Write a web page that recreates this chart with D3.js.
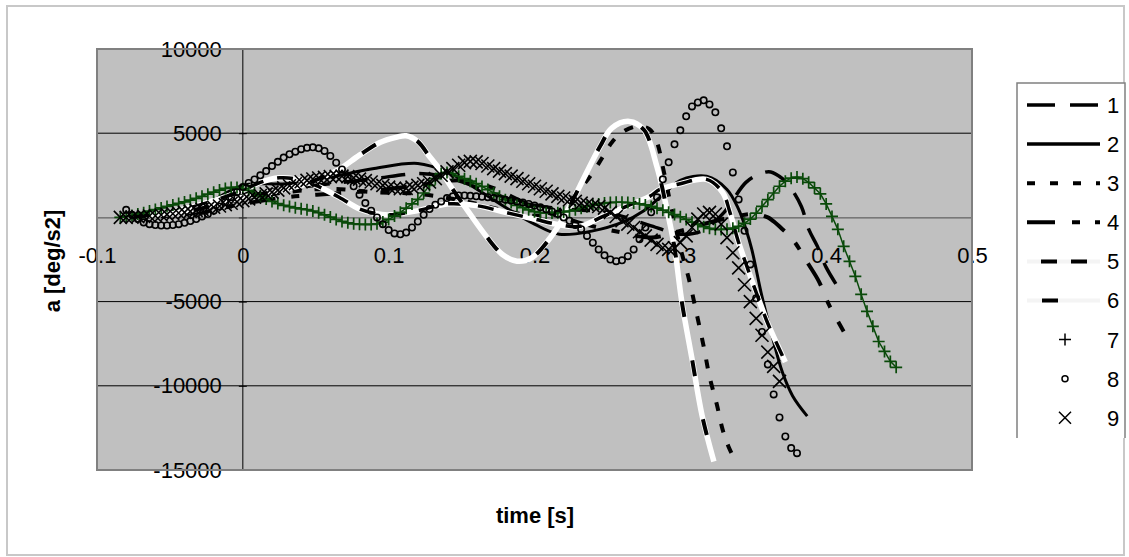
<!DOCTYPE html>
<html>
<head>
<meta charset="utf-8">
<script src="https://cdn.jsdelivr.net/npm/d3@7"></script>
<style>
  body { margin: 0; background: #fff; }
  svg { display: block; font-family: "Liberation Sans", Arial, sans-serif; }
</style>
</head>
<body>
<svg width="1129" height="557"></svg>
<script>
// axis ticks
var xTicks = [-0.1, 0, 0.1, 0.2, 0.3, 0.4, 0.5];
var xTickLabels = ["-0.1", "0", "0.1", "0.2", "0.3", "0.4", "0.5"];
var yTicks = [10000, 5000, 0, -5000, -10000, -15000];
var yTickLabels = ["10000", "5000", "", "-5000", "-10000", "-15000"];
var seriesNames = ["1", "2", "3", "4", "5", "6", "7", "8", "9"];

// line series, [time, accel]
var s1 = [[-0.085,0],[-0.06,200],[-0.03,700],[0,1400],[0.03,1700],[0.06,2000],[0.09,2300],[0.12,2600],[0.14,2400],[0.16,1800],[0.19,900],[0.22,500],[0.25,300],[0.28,-500],[0.3,-1000],[0.315,-800],[0.33,300],[0.345,2080],[0.355,2600],[0.362,2700],[0.37,2300],[0.375,1840],[0.383,650],[0.388,-700],[0.394,-1720],[0.4,-2970],[0.41,-4400]];
var s2 = [[-0.085,0],[-0.06,100],[-0.03,600],[0,1900],[0.03,2000],[0.06,2400],[0.09,2900],[0.12,3200],[0.14,2700],[0.16,1700],[0.18,600],[0.2,-400],[0.217,-1000],[0.24,-800],[0.26,-300],[0.275,400],[0.29,1500],[0.3,2200],[0.318,2440],[0.332,1660],[0.34,475],[0.345,-700],[0.349,-1900],[0.356,-4700],[0.363,-7070],[0.37,-9200],[0.377,-10600],[0.387,-11800]];
var s3 = [[-0.085,0],[-0.06,100],[-0.03,500],[0,1100],[0.03,1500],[0.06,1700],[0.09,1500],[0.12,1400],[0.15,1000],[0.18,400],[0.2,100],[0.215,300],[0.231,1660],[0.24,2670],[0.247,3620],[0.253,4450],[0.26,5050],[0.27,5400],[0.279,5230],[0.284,4450],[0.288,3000],[0.294,500],[0.3,-1800],[0.306,-3700],[0.311,-5640],[0.316,-7660],[0.32,-9440],[0.325,-11100],[0.329,-12600],[0.333,-13600],[0.338,-14500]];
var s4 = [[-0.085,0],[-0.06,50],[-0.03,300],[0,800],[0.03,1200],[0.06,1400],[0.09,1600],[0.12,1900],[0.15,2200],[0.17,1800],[0.2,600],[0.23,-300],[0.26,-900],[0.28,-1200],[0.3,-800],[0.32,-300],[0.34,100],[0.352,200],[0.36,0],[0.364,-240],[0.37,-700],[0.377,-1300],[0.388,-2800],[0.395,-3800],[0.402,-5200],[0.412,-6770]];
var s5 = [[-0.085,0],[-0.06,200],[-0.04,500],[-0.02,1000],[0,1600],[0.012,2080],[0.025,2350],[0.035,2300],[0.05,1900],[0.066,1200],[0.08,500],[0.09,250],[0.1,150],[0.12,400],[0.14,800],[0.16,700],[0.18,300],[0.2,-100],[0.215,-400],[0.231,-530],[0.247,60],[0.263,650],[0.279,1250],[0.286,1660],[0.3,2000],[0.318,2260],[0.329,1480],[0.334,300],[0.34,-1500],[0.346,-3000],[0.352,-4450],[0.36,-6300],[0.368,-7840],[0.372,-8600]];
var s6 = [[-0.085,0],[-0.06,150],[-0.04,350],[-0.02,700],[0,1200],[0.02,1500],[0.04,1900],[0.055,2400],[0.066,2850],[0.08,3700],[0.094,4450],[0.105,4750],[0.112,4850],[0.12,4500],[0.128,3620],[0.135,2850],[0.144,1660],[0.155,300],[0.167,-1130],[0.178,-2200],[0.188,-2600],[0.198,-2400],[0.21,-1300],[0.22,0],[0.231,1840],[0.245,4220],[0.253,5300],[0.265,5700],[0.275,5200],[0.284,3000],[0.29,800],[0.296,-1800],[0.301,-5000],[0.308,-8400],[0.315,-11800],[0.323,-14500]];

// marker series, sampled every dt seconds from t0
var s7t0 = -0.084, s7dt = 0.004;
var s7 = [0,50,120,200,280,380,470,560,650,740, 830,920,1020,1130,1250,1380,1500,1620,1720,1780,
  1780,1720,1600,1450,1280,1100,950,820,720,640, 570,510,460,380,280,150,20,-120,-240,-320,
  -380,-410,-420,-415,-380,-280,-120,80,300,550, 800,1070,1450,1900,2300,2600,2670,2600,2440,2300,
  2150,2000,1840,1650,1450,1250,1050,880,720,580, 450,340,280,260,260,280,320,380,450,550,
  650,730,800,850,880,900,900,880,850,800, 740,650,550,430,300,170,40,-120,-280,-420,
  -550,-650,-710,-720,-700,-640,-530,-350,-100,250, 650,1050,1450,1850,2150,2330,2400,2300,2080,1750,
  1400,800,60,-710,-1720,-2610,-3500,-4570,-5580,-6470, -7370,-7960,-8550,-8900];
var s8t0 = -0.080, s8dt = 0.004;
var s8 = [450,150,-100,-300,-400,-450,-480,-480,-450,-400, -320,-220,-100,50,200,400,650,900,1200,1500,
  1800,2050,2250,2500,2750,3050,3300,3550,3750,3900, 4050,4130,4160,4100,3950,3650,3250,2850,2350,1850,
  1350,850,400,0,-400,-750,-950,-1000,-900,-600, -250,150,500,750,950,1150,1250,1300,1300,1280,
  1250,1220,1200,1150,1100,1050,1000,950,880,800, 700,600,480,350,200,0,-200,-450,-700,-1100,
  -1500,-1900,-2250,-2500,-2600,-2550,-2300,-1900,-1300,-600, 300,1190,2260,3270,4340,5170,6000,6590,6830,6950,
  6710,6240,5290,4220,2670,1070,-800,-2790,-4800,-6800, -8730,-10510,-11880,-13010,-13700,-14000];
var s9t0 = -0.084, s9dt = 0.004;
var s9 = [0,0,20,40,60,80,100,140,180,220, 260,300,360,420,480,540,600,680,760,840,
  920,1000,1100,1200,1300,1400,1500,1620,1750,1880, 2000,2120,2200,2280,2340,2380,2420,2440,2450,2420,
  2350,2270,2180,2100,2000,1900,1800,1730,1700,1720, 1800,1900,2000,2100,2300,2500,2700,2900,3100,3250,
  3330,3300,3200,3050,2900,2750,2600,2450,2300,2150, 2000,1850,1700,1550,1400,1250,1150,1050,950,850,
  780,700,650,550,300,50,-200,-400,-600,-850, -1100,-1350,-1600,-1800,-1900,-1800,-1500,-1100,-600,-100,
  200,300,200,-400,-1200,-2100,-3000,-4000,-5000,-6000, -7000,-8000,-8850,-9740];

function sampled(vals, t0, dt) {
  return vals.map(function(v, i) { return [t0 + i * dt, v]; });
}

var svg = d3.select("svg");
var plot = { left: 97, top: 49, right: 972, bottom: 470 };
var green = "#0a4a0a";

var x = d3.scaleLinear().domain([-0.1, 0.5]).range([plot.left, plot.right]);
var y = d3.scaleLinear().domain([-15000, 10000]).range([plot.bottom, plot.top]);

// outer chart frame
svg.append("rect")
  .attr("x", 7).attr("y", 6).attr("width", 1117).attr("height", 549)
  .attr("fill", "#fff").attr("stroke", "#c8c8c8").attr("stroke-width", 2);

// plot area
svg.append("rect")
  .attr("x", plot.left).attr("y", plot.top)
  .attr("width", plot.right - plot.left).attr("height", plot.bottom - plot.top)
  .attr("fill", "#c0c0c0");

svg.append("defs").append("clipPath").attr("id", "clip")
  .append("rect")
  .attr("x", plot.left).attr("y", plot.top)
  .attr("width", plot.right - plot.left).attr("height", plot.bottom - plot.top);

// horizontal gridlines
svg.append("g").selectAll("line")
  .data(yTicks.filter(function(d) { return d !== 0 && d !== 10000 && d !== -15000; }))
  .enter().append("line")
  .attr("x1", plot.left).attr("x2", plot.right)
  .attr("y1", function(d) { return y(d); }).attr("y2", function(d) { return y(d); })
  .attr("stroke", "#000").attr("stroke-width", 1);

// y axis at t = 0
var yAxis = svg.append("g")
  .attr("transform", "translate(" + x(0) + ",0)")
  .call(d3.axisLeft(y).tickValues(yTicks).tickSizeInner(4).tickSizeOuter(0).tickPadding(17)
    .tickFormat(function(d, i) { return yTickLabels[i]; }));
yAxis.select(".domain").remove();
yAxis.attr("font-family", null).attr("font-size", 22);
yAxis.selectAll("text").attr("fill", "#000");
yAxis.selectAll("line").attr("stroke", "#000").attr("x2", 4).attr("x1", -4);

svg.append("line")
  .attr("x1", x(0)).attr("x2", x(0)).attr("y1", plot.top).attr("y2", plot.bottom)
  .attr("stroke", "#000").attr("stroke-width", 1);

// x axis at a = 0
var xAxis = svg.append("g")
  .attr("transform", "translate(0," + y(0) + ")")
  .call(d3.axisBottom(x).tickValues(xTicks).tickSize(0).tickPadding(30)
    .tickFormat(function(d, i) { return xTickLabels[i]; }));
xAxis.select(".domain").attr("stroke", "#4a4a4a");
xAxis.attr("font-family", null).attr("font-size", 22);
xAxis.selectAll("text").attr("fill", "#000");

// series
var g = svg.append("g").attr("clip-path", "url(#clip)");
var line = d3.line()
  .x(function(d) { return x(d[0]); })
  .y(function(d) { return y(d[1]); })
  .curve(d3.curveCatmullRom.alpha(0.5));

function drawLine(data, color, width, dash, offset) {
  g.append("path")
    .datum(data)
    .attr("fill", "none")
    .attr("stroke", color)
    .attr("stroke-width", width)
    .attr("stroke-dasharray", dash)
    .attr("stroke-dashoffset", offset || 0)
    .attr("stroke-linejoin", "round")
    .attr("d", line);
}

drawLine(s1, "#000", 3.5, "24,14");
drawLine(s2, "#000", 3, null);
drawLine(s3, "#000", 4, "9,13");
drawLine(s4, "#000", 4, "26,16,8,16");
drawLine(s5, "#fff", 5.5, null);
drawLine(s5, "#000", 3.5, "16,14", 16);
drawLine(s6, "#fff", 5.5, null);
drawLine(s6, "#000", 4, "16,44", 45);

var d7 = sampled(s7, s7t0, s7dt);
var d8 = sampled(s8, s8t0, s8dt);
var d9 = sampled(s9, s9t0, s9dt);

g.append("path")
  .datum(d7)
  .attr("fill", "none")
  .attr("stroke", green)
  .attr("stroke-width", 1.5)
  .attr("d", d3.line().x(function(d) { return x(d[0]); }).y(function(d) { return y(d[1]); }));

g.append("g").selectAll("path")
  .data(d7).enter().append("path")
  .attr("transform", function(d) { return "translate(" + x(d[0]) + "," + y(d[1]) + ")"; })
  .attr("d", "M-6,0H6M0,-6V6")
  .attr("stroke", green).attr("stroke-width", 1.7).attr("fill", "none");

g.append("g").selectAll("circle")
  .data(d8).enter().append("circle")
  .attr("cx", function(d) { return x(d[0]); })
  .attr("cy", function(d) { return y(d[1]); })
  .attr("r", 3.2)
  .attr("fill", "none").attr("stroke", "#000").attr("stroke-width", 1.6);

g.append("g").selectAll("path")
  .data(d9).enter().append("path")
  .attr("transform", function(d) { return "translate(" + x(d[0]) + "," + y(d[1]) + ")"; })
  .attr("d", "M-6.5,-6.5L6.5,6.5M-6.5,6.5L6.5,-6.5")
  .attr("stroke", "#000").attr("stroke-width", 1.6).attr("fill", "none");

// plot border
svg.append("rect")
  .attr("x", plot.left).attr("y", plot.top)
  .attr("width", plot.right - plot.left).attr("height", plot.bottom - plot.top)
  .attr("fill", "none").attr("stroke", "#808080").attr("stroke-width", 2);

// axis titles
svg.append("text")
  .attr("transform", "translate(60,261) rotate(-90)")
  .attr("text-anchor", "middle")
  .attr("font-size", 22).attr("font-weight", "bold")
  .text("a [deg/s2]");

svg.append("text")
  .attr("x", 535).attr("y", 523)
  .attr("text-anchor", "middle")
  .attr("font-size", 22).attr("font-weight", "bold")
  .text("time [s]");

// legend
var lg = svg.append("g");
lg.append("path")
  .attr("d", "M1017,438V83H1125V438")
  .attr("fill", "#fff").attr("stroke", "#808080").attr("stroke-width", 1.5);

var legendY = function(i) { return 105 + i * 39.1; };
var x0 = 1027, x1 = 1100;

function legendLine(i, color, width, dash, offset) {
  lg.append("line")
    .attr("x1", x0).attr("x2", x1)
    .attr("y1", legendY(i)).attr("y2", legendY(i))
    .attr("stroke", color).attr("stroke-width", width)
    .attr("stroke-dasharray", dash)
    .attr("stroke-dashoffset", offset || 0);
}
legendLine(0, "#000", 3.5, "28,15");
legendLine(1, "#000", 3.5, null);
legendLine(2, "#000", 4, "8,15");
legendLine(3, "#000", 4, "28,17,8,15");
legendLine(4, "#f4f4f4", 4, null);
legendLine(4, "#000", 4, "16,14", 16);
legendLine(5, "#f4f4f4", 4, null);
legendLine(5, "#000", 4, "16,44", 45);

lg.append("path")
  .attr("transform", "translate(1065," + legendY(6) + ")")
  .attr("d", "M-6,0H6M0,-6V6")
  .attr("stroke", "#000").attr("stroke-width", 1.5);
lg.append("circle")
  .attr("cx", 1065).attr("cy", legendY(7)).attr("r", 3)
  .attr("fill", "none").attr("stroke", "#000").attr("stroke-width", 1.5);
lg.append("path")
  .attr("transform", "translate(1065," + legendY(8) + ")")
  .attr("d", "M-6,-6L6,6M-6,6L6,-6")
  .attr("stroke", "#000").attr("stroke-width", 1.5);

lg.selectAll("text.name")
  .data(seriesNames).enter().append("text")
  .attr("class", "name")
  .attr("x", 1107)
  .attr("y", function(d, i) { return legendY(i); })
  .attr("dy", "0.36em")
  .attr("font-size", 22)
  .text(function(d) { return d; });
</script>
</body>
</html>
